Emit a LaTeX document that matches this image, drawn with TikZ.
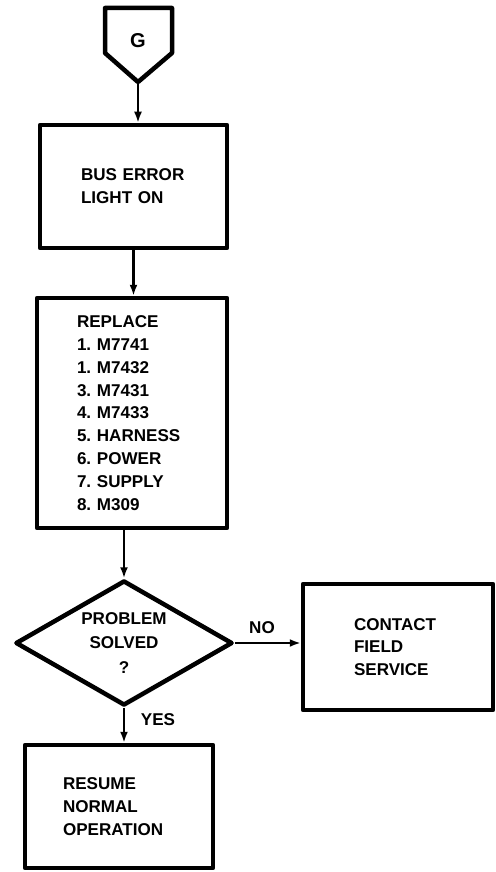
\documentclass[tikz,border=0pt]{standalone}
\usepackage{fontspec}
\setmainfont{Liberation Sans}
\usetikzlibrary{shapes.geometric,arrows.meta}
\frenchspacing
\begin{document}
\begin{tikzpicture}[x=1pt,y=-1pt,line join=round,
every node/.style={font=\bfseries\fontsize{17bp}{22.7bp}\selectfont,inner sep=0pt},
box/.style={draw,line width=4.5pt,align=left},
link/.style={line width=2.5pt,-{Latex[length=11pt,width=8pt]}}]
\useasboundingbox (0,0) rectangle (495,872);
\draw[line width=4.5pt] (105,8)--(172,8)--(172,53)--(138,82)--(105,53)--cycle;
\node[font=\bfseries\fontsize{20bp}{24bp}\selectfont] (g) at (138,41) {G};
\coordinate (gtip) at (138,82);
\node[box,minimum width=187pt,minimum height=123pt,text width=105pt] (bus) at (133.5,186.5) {BUS ERROR\\LIGHT ON};
\node[box,minimum width=190pt,minimum height=230pt,text width=110pt] (repl) at (132,413) {REPLACE\\1. M7741\\1. M7432\\3. M7431\\4. M7433\\5. HARNESS\\6. POWER\\7. SUPPLY\\8. M309};
\node[diamond,draw,line width=4.5pt,shape aspect=1.74,minimum width=217pt,minimum height=125pt,align=center,font=\bfseries\fontsize{17bp}{24.5bp}\selectfont] (prob) at (124,643) {PROBLEM\\SOLVED\\?};
\node[box,minimum width=190pt,minimum height=126pt,text width=88pt] (field) at (398,647) {CONTACT\\FIELD\\SERVICE};
\node[box,minimum width=188pt,minimum height=123pt,text width=112pt] (resume) at (119,806.5) {RESUME\\NORMAL\\OPERATION};
\node (no) at (262,628) {NO};
\node (yes) at (158,720) {YES};
\draw[link] (gtip)--(gtip|-bus.north);
\draw[link] (bus.south)--(bus.south|-repl.north);
\draw[link] (prob.north|-repl.south)--(prob.north);
\draw[link] (prob.east)--(prob.east-|field.west);
\draw[link] (prob.south)--(prob.south|-resume.north);
\end{tikzpicture}
\end{document}
